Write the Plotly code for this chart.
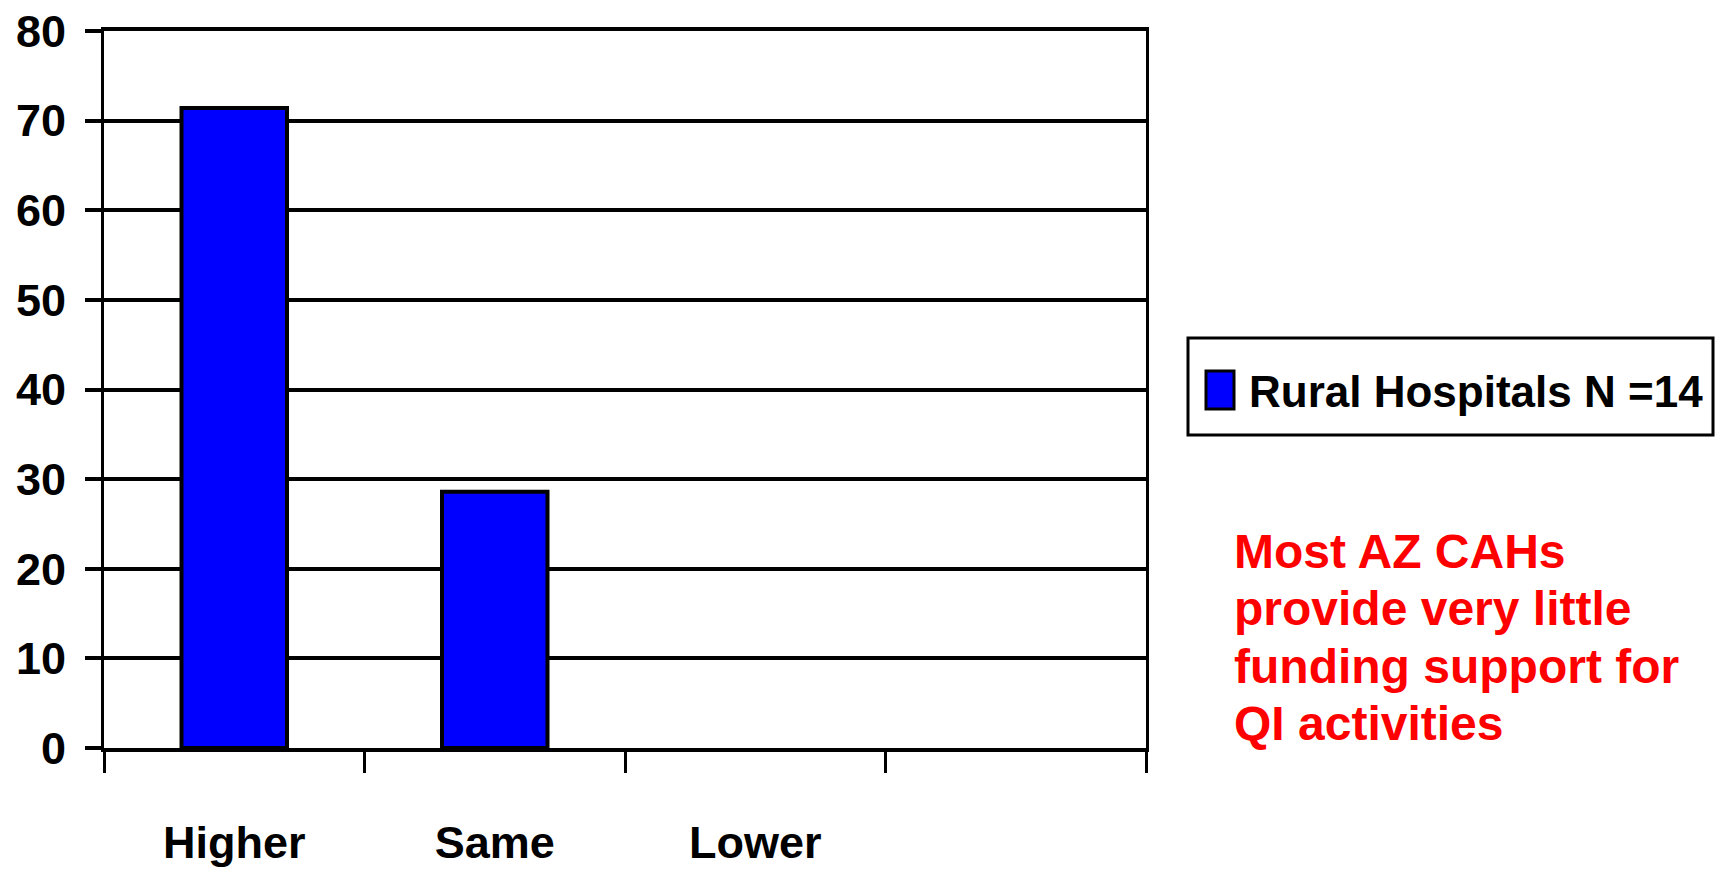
import plotly.graph_objects as go

# Survey responses: share of rural hospitals (%)
categories = ["Higher", "Same", "Lower", " "]
values = [71.4, 28.6, 0, None]
series_name = "Rural Hospitals N =14"
y_ticks = [0, 10, 20, 30, 40, 50, 60, 70, 80]
note_lines = ["Most AZ CAHs", "provide very little", "funding support for", "QI activities"]

W, H = 1723, 872
L, R, T, B = 104, 577, 31, 124
PW, PH = W - L - R, H - T - B

FONT = "Liberation Sans, Arial, sans-serif"


def px_x(x):
    return (x - L) / PW


def px_y(y):
    return (H - B - y) / PH


# zero-height bars get no outline so nothing shows above the axis
outline = [0 if (v is None or v == 0) else 4 for v in values]

fig = go.Figure()
fig.add_trace(go.Bar(
    x=categories, y=values, name=series_name,
    width=0.405,
    marker=dict(color="#0000FF", line=dict(color="black", width=outline)),
    showlegend=False,
))

fig.update_layout(
    width=W, height=H,
    margin=dict(l=L, r=R, t=T, b=B, autoexpand=False),
    paper_bgcolor="white", plot_bgcolor="white",
    showlegend=False,
    xaxis=dict(
        type="category", categoryorder="array", categoryarray=categories,
        range=[-0.5, 3.5], automargin=False,
        showline=True, linecolor="black", linewidth=4, mirror=True,
        ticks="outside", tickson="boundaries", ticklen=21, tickwidth=3, tickcolor="black",
        showgrid=False, zeroline=False,
        tickfont=dict(family=FONT, size=45, color="black", weight="bold"),
        ticklabelstandoff=52,
    ),
    yaxis=dict(
        range=[0, 80], tickvals=y_ticks, ticktext=[str(v) for v in y_ticks],
        automargin=False,
        showline=True, linecolor="black", linewidth=3, mirror=True,
        ticks="outside", ticklen=16, tickwidth=4, tickcolor="black",
        showgrid=True, gridcolor="black", gridwidth=4,
        zeroline=False,
        tickfont=dict(family=FONT, size=45, color="black", weight="bold"),
        ticklabelstandoff=10,
    ),
)

# Legend box with swatch and label
fig.add_shape(type="rect", xref="paper", yref="paper",
              x0=px_x(1188), x1=px_x(1713), y0=px_y(435), y1=px_y(338),
              line=dict(color="black", width=3), fillcolor="white")
fig.add_shape(type="rect", xref="paper", yref="paper",
              x0=px_x(1206), x1=px_x(1234), y0=px_y(409), y1=px_y(371),
              line=dict(color="black", width=3), fillcolor="#0000FF")
fig.add_annotation(xref="paper", yref="paper", x=px_x(1247), y=px_y(391),
                   xanchor="left", yanchor="middle", showarrow=False,
                   text=series_name,
                   font=dict(family=FONT, size=44, color="black", weight="bold"))

# Red note text, one line per annotation
baselines = [568, 625, 683, 740]
for line, base in zip(note_lines, baselines):
    fig.add_annotation(xref="paper", yref="paper", x=px_x(1232), y=px_y(base - 17),
                       xanchor="left", yanchor="middle", showarrow=False,
                       text=line,
                       font=dict(family=FONT, size=48, color="#FF0000", weight="bold"))

fig.write_html("out.html")
